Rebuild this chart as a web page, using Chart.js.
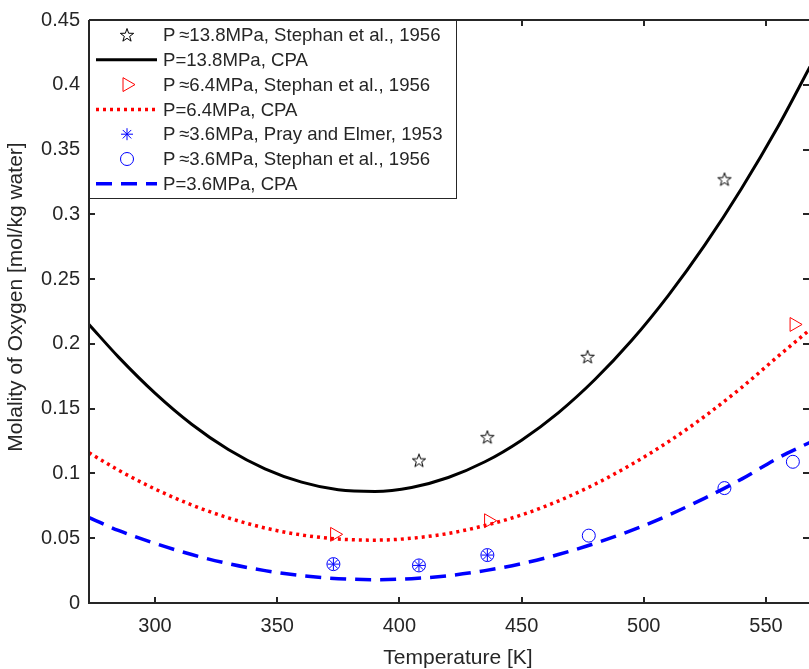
<!DOCTYPE html>
<html>
<head>
<meta charset="utf-8">
<script src="https://cdn.jsdelivr.net/npm/chart.js@4.4.0/dist/chart.umd.min.js"></script>
<style>
  html, body { margin: 0; padding: 0; background: #fff; }
  #wrap { width: 809px; height: 669px; }
</style>
</head>
<body>
<div id="wrap"><canvas id="chart" width="809" height="669"></canvas></div>
<script>
// temperature grid for the CPA curves [K]
const cpaTemps = [273, 285, 300, 315, 330, 345, 360, 375, 390, 405, 420, 435, 450, 465, 480, 495, 510, 525, 540, 555, 568];
// molality of O2 [mol/kg water]
const cpa138 = [0.215, 0.190, 0.162, 0.138, 0.1185, 0.1036, 0.0933, 0.0874, 0.0861, 0.0892, 0.0969, 0.109, 0.1257, 0.1468, 0.1725, 0.2026, 0.2373, 0.2764, 0.320, 0.368, 0.414];
const cpa64 = [0.116, 0.1026, 0.088, 0.0757, 0.0657, 0.0579, 0.0525, 0.0494, 0.0485, 0.050, 0.0537, 0.0598, 0.068, 0.0787, 0.0917, 0.107, 0.1244, 0.1442, 0.1663, 0.1905, 0.211];
const cpa36 = [0.066, 0.056, 0.046, 0.0374, 0.0304, 0.025, 0.0211, 0.0188, 0.018, 0.0188, 0.0211, 0.025, 0.0304, 0.0374, 0.046, 0.056, 0.0677, 0.081, 0.0956, 0.112, 0.124];

// experimental points
const stephan138T = [408, 436, 477, 533];
const stephan138 = [0.110, 0.128, 0.190, 0.327];
const stephan64T = [373.5, 436.5, 561.5];
const stephan64 = [0.053, 0.0635, 0.215];
const pray36T = [373, 408, 436];
const pray36 = [0.030, 0.029, 0.037];
const stephan36T = [373, 408, 436, 477.5, 533, 561];
const stephan36 = [0.030, 0.029, 0.037, 0.052, 0.0887, 0.109];

const seriesNames = [
  'P\u2009\u224813.8MPa, Stephan et al., 1956',
  'P=13.8MPa, CPA',
  'P\u2009\u22486.4MPa, Stephan et al., 1956',
  'P=6.4MPa, CPA',
  'P\u2009\u22483.6MPa, Pray and Elmer, 1953',
  'P\u2009\u22483.6MPa, Stephan et al., 1956',
  'P=3.6MPa, CPA'
];

const xTicks = [300, 350, 400, 450, 500, 550];
const yTicks = [0, 0.05, 0.1, 0.15, 0.2, 0.25, 0.3, 0.35, 0.4, 0.45];
const yTickLabels = ['0', '0.05', '0.1', '0.15', '0.2', '0.25', '0.3', '0.35', '0.4', '0.45'];

const FONT = "'Liberation Sans', Arial, sans-serif";
const INK = '#262626';
Chart.defaults.font.family = FONT;

const pts = (xs, ys) => xs.map((x, i) => ({ x: x, y: ys[i] }));

// open five-pointed star marker
function starMarker(r, color) {
  const c = document.createElement('canvas');
  const s = Math.ceil(r * 2 + 4);
  c.width = c.height = s;
  const g = c.getContext('2d');
  g.strokeStyle = color;
  g.lineWidth = 1;
  g.beginPath();
  for (let k = 0; k < 10; k++) {
    const rr = k % 2 ? r * 0.4 : r;
    const ang = -Math.PI / 2 + k * Math.PI / 5;
    const px = s / 2 + rr * Math.cos(ang), py = s / 2 + rr * Math.sin(ang) + 0.5;
    k ? g.lineTo(px, py) : g.moveTo(px, py);
  }
  g.closePath();
  g.stroke();
  return c;
}

function marker(style, color, radius, extra) {
  return Object.assign({
    showLine: false, pointStyle: style, pointRadius: radius,
    pointBorderColor: color, pointBackgroundColor: 'rgba(0,0,0,0)',
    pointBorderWidth: 1, borderColor: color, backgroundColor: 'rgba(0,0,0,0)'
  }, extra || {});
}

function curve(color, width, dash) {
  return {
    showLine: true, borderColor: color, borderWidth: width, borderDash: dash,
    pointRadius: 0, cubicInterpolationMode: 'monotone', fill: false, borderCapStyle: 'butt'
  };
}

const datasets = [
  Object.assign({ label: seriesNames[0], data: pts(stephan138T, stephan138) }, marker(starMarker(7, '#000'), '#000', 7)),
  Object.assign({ label: seriesNames[1], data: pts(cpaTemps, cpa138) }, curve('#000', 3, [])),
  Object.assign({ label: seriesNames[2], data: pts(stephan64T, stephan64) }, marker('triangle', '#ff0000', 8, { pointRotation: 90 })),
  Object.assign({ label: seriesNames[3], data: pts(cpaTemps, cpa64) }, curve('#ff0000', 3.5, [3, 4])),
  Object.assign({ label: seriesNames[4], data: pts(pray36T, pray36) }, marker('star', '#0000ff', 6)),
  Object.assign({ label: seriesNames[5], data: pts(stephan36T, stephan36) }, marker('circle', '#0000ff', 6.5)),
  Object.assign({ label: seriesNames[6], data: pts(cpaTemps, cpa36) }, curve('#0000ff', 3.5, [16, 9]))
];

// box, inward ticks, axis titles and the legend, drawn MATLAB style
const frame = {
  id: 'frame',
  afterDraw(chart) {
    const { ctx, chartArea: a, scales: { x, y } } = chart;
    ctx.save();
    ctx.strokeStyle = INK;
    ctx.lineWidth = 2;
    ctx.beginPath();
    ctx.moveTo(a.left, a.top); ctx.lineTo(a.left, a.bottom); ctx.lineTo(a.right + 1.5, a.bottom);
    ctx.moveTo(a.left, a.top); ctx.lineTo(a.right + 1.5, a.top); ctx.lineTo(a.right + 1.5, a.bottom);
    ctx.stroke();
    ctx.beginPath();
    xTicks.forEach(v => {
      const px = Math.round(x.getPixelForValue(v));
      ctx.moveTo(px, a.bottom); ctx.lineTo(px, a.bottom - 6);
      ctx.moveTo(px, a.top); ctx.lineTo(px, a.top + 6);
    });
    yTicks.forEach(v => {
      const py = Math.round(y.getPixelForValue(v));
      ctx.moveTo(a.left, py); ctx.lineTo(a.left + 6, py);
      ctx.moveTo(a.right, py); ctx.lineTo(a.right - 6, py);
    });
    ctx.stroke();

    // axis titles
    ctx.fillStyle = INK;
    ctx.font = '21px ' + FONT;
    ctx.textAlign = 'center';
    ctx.textBaseline = 'middle';
    ctx.fillText('Temperature [K]', 458, 658);
    ctx.save();
    ctx.translate(16, 297);
    ctx.rotate(-Math.PI / 2);
    ctx.fillText('Molality of Oxygen [mol/kg water]', 0, 0);
    ctx.restore();

    // legend
    const lx = 89.5, ly = 20.5, lw = 367, lh = 178;
    ctx.fillStyle = '#fff';
    ctx.fillRect(lx, ly, lw, lh);
    ctx.lineWidth = 1;
    ctx.strokeStyle = INK;
    ctx.strokeRect(lx, ly, lw, lh);
    ctx.font = '18.6px ' + FONT;
    ctx.textAlign = 'left';
    chart.data.datasets.forEach((ds, i) => {
      const ry = 35 + i * 24.8;
      if (ds.showLine) {
        ctx.save();
        ctx.strokeStyle = ds.borderColor;
        ctx.lineWidth = ds.borderWidth;
        ctx.setLineDash(ds.borderDash || []);
        ctx.beginPath();
        ctx.moveTo(96, ry); ctx.lineTo(157, ry);
        ctx.stroke();
        ctx.restore();
      } else {
        ctx.save();
        ctx.strokeStyle = ds.pointBorderColor;
        ctx.fillStyle = 'rgba(0,0,0,0)';
        ctx.lineWidth = ds.pointBorderWidth;
        Chart.helpers.drawPoint(ctx, {
          pointStyle: ds.pointStyle, rotation: ds.pointRotation || 0,
          radius: ds.pointRadius, borderWidth: ds.pointBorderWidth
        }, 127, ry);
        ctx.restore();
      }
      ctx.fillStyle = INK;
      ctx.fillText(ds.label, 163, ry + 1);
    });
    ctx.restore();
  }
};

new Chart(document.getElementById('chart'), {
  type: 'line',
  data: { datasets: datasets },
  options: {
    responsive: false,
    animation: false,
    layout: { autoPadding: false, padding: { top: 20, right: 0, left: 0, bottom: 0 } },
    plugins: { legend: { display: false }, tooltip: { enabled: false } },
    scales: {
      x: {
        type: 'linear', min: 273, max: 567.6,
        grid: { display: false }, border: { display: false },
        afterBuildTicks: s => { s.ticks = xTicks.map(v => ({ value: v })); },
        ticks: { font: { size: 20 }, color: INK, padding: 3, maxRotation: 0, autoSkip: false,
                 callback: (v, i) => String(xTicks[i]) },
        afterFit: s => { s.height = 66; s.paddingLeft = 0; s.paddingRight = 0; }
      },
      y: {
        type: 'linear', min: 0, max: 0.45,
        grid: { display: false }, border: { display: false },
        afterBuildTicks: s => { s.ticks = yTicks.map(v => ({ value: v })); },
        ticks: { font: { size: 20 }, color: INK, padding: 1, autoSkip: false,
                 callback: (v, i) => yTickLabels[i] },
        afterFit: s => { s.width = 89; s.paddingTop = 0; s.paddingBottom = 0; }
      }
    }
  },
  plugins: [frame]
});
</script>
</body>
</html>
